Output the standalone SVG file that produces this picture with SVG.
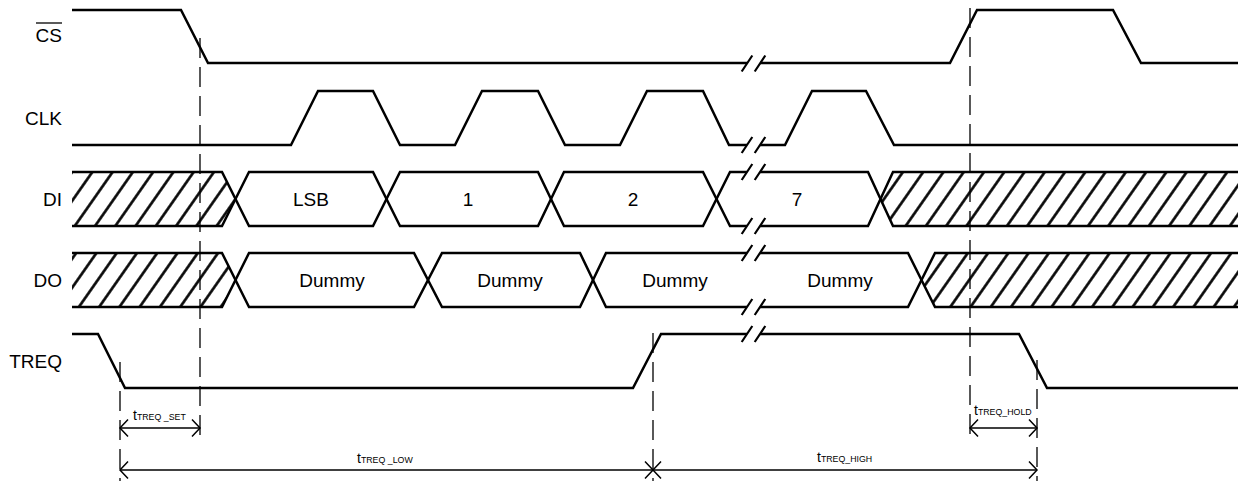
<svg xmlns="http://www.w3.org/2000/svg" width="1238" height="481" viewBox="0 0 1238 481">
<style>
.sig{fill:none;stroke:#000;stroke-width:2.5;stroke-linejoin:miter;stroke-linecap:butt}
.brk{fill:none;stroke:#000;stroke-width:2.2}
.dash{fill:none;stroke:#000;stroke-width:1.3;stroke-dasharray:20 9}
.arr{fill:none;stroke:#000;stroke-width:1.5;marker-start:url(#ah);marker-end:url(#ah)}
.lbl{font-family:"Liberation Sans",Arial,sans-serif;font-size:19px;fill:#000}
.t{font-family:"Liberation Sans",Arial,sans-serif;font-size:14px;fill:#000}
.sub{font-size:8.8px}
.hat{fill:url(#hatch);stroke:none}
</style>
<defs>
<pattern id="hatch" patternUnits="userSpaceOnUse" width="16.6" height="20" patternTransform="rotate(35)">
<line x1="8.3" y1="-2" x2="8.3" y2="22" stroke="#000" stroke-width="2.6"/>
</pattern>
<marker id="ah" viewBox="-10 -10 12 20" refX="0" refY="0" markerWidth="12" markerHeight="20" markerUnits="userSpaceOnUse" orient="auto-start-reverse">
<path d="M-8,-8.5 L0,0 L-8,8.5" fill="none" stroke="#000" stroke-width="1.5"/>
</marker>
</defs>
<rect width="1238" height="481" fill="#fff"/>

<g id="label-CS">
<text class="lbl" x="62" y="42" text-anchor="end">CS</text>
<line x1="36" y1="23" x2="62" y2="23" stroke="#000" stroke-width="1.3"/>
</g>
<g id="label-CLK"><text class="lbl" x="62" y="125" text-anchor="end">CLK</text></g>
<g id="label-DI"><text class="lbl" x="62" y="206" text-anchor="end">DI</text></g>
<g id="label-DO"><text class="lbl" x="62" y="287" text-anchor="end">DO</text></g>
<g id="label-TREQ"><text class="lbl" x="62" y="368" text-anchor="end">TREQ</text></g>

<g id="signal-CS">
<path class="sig" d="M72,10 H181 L208,63 H747 M760,63 H950 L977,10 H1113 L1141,63 H1238"/>
<path class="brk" d="M741.7,71.5 L752.3,55.5 M754.7,71.5 L765.3,55.5"/>
</g>

<g id="signal-CLK">
<path class="sig" d="M72,145 H291 L318,91 H373 L400,145 H455 L482,91 H538 L565,145 H620 L647,91 H703 L729,145 H747 M760,145 H785 L812,91 H866 L894,145 H1238"/>
<path class="brk" d="M741.7,153 L752.3,137 M754.7,153 L765.3,137"/>
</g>

<g id="signal-DI">
<polygon class="hat" points="72,172 222,172 235.5,199 222,226 72,226"/>
<polygon class="hat" points="880.5,199 893,172 1238,172 1238,226 893,226"/>
<path class="sig" d="M72,172 H222 L249,226 H373 L400,172 H538 L564,226 H703 L730,172 H747 M760,172 H868 L893,226 H1238"/>
<path class="sig" d="M72,226 H222 L249,172 H373 L400,226 H538 L564,172 H703 L730,226 H747 M760,226 H868 L893,172 H1238"/>
<path class="brk" d="M741.7,180 L752.3,164 M754.7,180 L765.3,164 M741.7,234 L752.3,218 M754.7,234 L765.3,218"/>
<text class="lbl" x="311" y="206" text-anchor="middle">LSB</text>
<text class="lbl" x="468" y="206" text-anchor="middle">1</text>
<text class="lbl" x="633" y="206" text-anchor="middle">2</text>
<text class="lbl" x="797" y="206" text-anchor="middle">7</text>
</g>

<g id="signal-DO">
<polygon class="hat" points="72,253 222,253 235.5,280 222,307 72,307"/>
<polygon class="hat" points="921.5,280 935,253 1238,253 1238,307 935,307"/>
<path class="sig" d="M72,253 H222 L249,307 H414 L442,253 H580 L606,307 H747 M760,307 H908 L935,253 H1238"/>
<path class="sig" d="M72,307 H222 L249,253 H414 L442,307 H580 L606,253 H747 M760,253 H908 L935,307 H1238"/>
<path class="brk" d="M741.7,261 L752.3,245 M754.7,261 L765.3,245 M741.7,315 L752.3,299 M754.7,315 L765.3,299"/>
<text class="lbl" x="332" y="287" text-anchor="middle">Dummy</text>
<text class="lbl" x="510" y="287" text-anchor="middle">Dummy</text>
<text class="lbl" x="675" y="287" text-anchor="middle">Dummy</text>
<text class="lbl" x="840" y="287" text-anchor="middle">Dummy</text>
</g>

<g id="signal-TREQ">
<path class="sig" d="M72,334 H98 L125,388 H633 L661,334 H747 M760,334 H1019 L1047,388 H1238"/>
<path class="brk" d="M741.7,342 L752.3,326 M754.7,342 L765.3,326"/>
</g>

<g id="connectors">
<line class="dash" x1="200" y1="38" x2="200" y2="440"/>
<line class="dash" x1="120" y1="362" x2="120" y2="481"/>
<line class="dash" x1="653" y1="333" x2="653" y2="481"/>
<line class="dash" x1="970" y1="8" x2="970" y2="437"/>
<line class="dash" x1="1037" y1="360" x2="1037" y2="481"/>
<line class="arr" x1="120" y1="428" x2="200" y2="428"/>
<line class="arr" x1="120" y1="470" x2="653" y2="470"/>
<line class="arr" x1="653" y1="470" x2="1037" y2="470"/>
<line class="arr" x1="970" y1="428" x2="1037" y2="428"/>
</g>

<g id="timing-labels">
<text class="t" x="133" y="420">t<tspan class="sub">TREQ _SET</tspan></text>
<text class="t" x="357" y="463">t<tspan class="sub">TREQ _LOW</tspan></text>
<text class="t" x="817" y="462">t<tspan class="sub">TREQ_HIGH</tspan></text>
<text class="t" x="974" y="415">t<tspan class="sub">TREQ_HOLD</tspan></text>
</g>
</svg>
